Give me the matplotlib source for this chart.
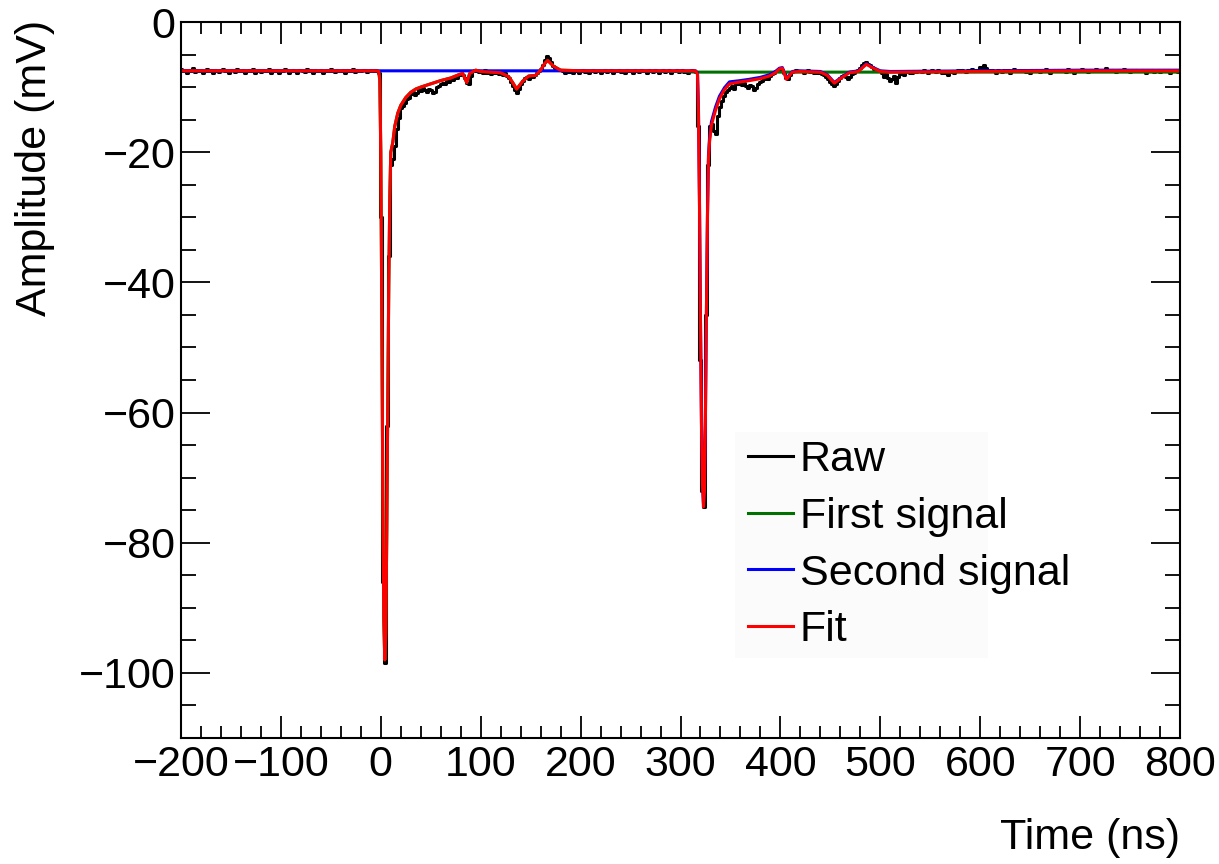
import numpy as np
import matplotlib
matplotlib.use("Agg")
import matplotlib.pyplot as plt
from matplotlib.ticker import MultipleLocator
from matplotlib.patches import Rectangle

plt.rcParams['font.family'] = ['Liberation Sans', 'DejaVu Sans']

# raw waveform, sampled every 2 ns from -200 ns to 800 ns
raw_start, raw_step = -200, 2
raw_mv = [
    -7.2, -7.6, -7.3, -7.9, -7.4, -7.5, -7.1, -7.7, -7.4, -7.6,
    -7.3, -7.8, -7.5, -7.2, -7.6, -7.4, -7.9, -7.3, -7.5, -7.7,
    -7.4, -7.2, -7.6, -7.5, -7.8, -7.3, -7.4, -7.7, -7.2, -7.5,
    -7.6, -7.4, -7.9, -7.5, -7.3, -7.6, -7.2, -7.8, -7.5, -7.4,
    -7.7, -7.3, -7.5, -7.6, -7.2, -7.9, -7.4, -7.5, -7.3, -7.8,
    -7.5, -7.6, -7.2, -7.4, -7.8, -7.5, -7.3, -7.6, -7.9, -7.4,
    -7.3, -7.5, -7.7, -7.2, -7.6, -7.4, -7.8, -7.3, -7.5, -7.6,
    -7.4, -7.9, -7.5, -7.3, -7.6, -7.2, -7.5, -7.7, -7.4, -7.6,
    -7.5, -7.3, -7.8, -7.4, -7.6, -7.5, -7.2, -7.7, -7.4, -7.5,
    -7.6, -7.4, -7.3, -7.7, -7.5, -7.4, -7.6, -7.3, -7.5, -7.8,
    -30.0, -86.0, -98.5, -62.0, -36.0, -22.0, -21.0, -19.0, -16.5, -14.8,
    -13.2, -12.9, -12.4, -11.9, -11.7, -11.0, -10.7, -11.2, -10.9, -10.4,
    -10.6, -10.1, -10.4, -10.8, -10.3, -10.5, -10.9, -10.7, -10.0, -9.8,
    -9.6, -9.3, -9.5, -9.0, -9.2, -8.8, -8.9, -8.5, -8.6, -8.2,
    -8.0, -8.2, -8.6, -9.4, -9.6, -8.3, -7.6, -7.3, -7.5, -7.7,
    -7.5, -7.8, -7.4, -7.9, -7.6, -8.0, -7.7, -7.8, -7.5, -8.0,
    -7.9, -8.1, -7.8, -8.3, -8.6, -9.2, -9.8, -10.4, -10.9, -10.3,
    -9.6, -9.0, -8.6, -8.4, -8.7, -8.3, -8.5, -8.1, -7.8, -7.5,
    -7.2, -6.6, -5.9, -5.3, -5.6, -6.2, -6.7, -7.0, -7.2, -7.4,
    -7.3, -7.6, -7.8, -7.5, -7.7, -7.4, -7.9, -7.6, -7.5, -7.8,
    -7.6, -7.4, -7.7, -7.5, -7.9, -7.6, -7.3, -7.7, -7.5, -7.6,
    -7.8, -7.5, -7.4, -7.7, -7.6, -7.3, -7.8, -7.5, -7.6, -7.4,
    -7.7, -7.5, -7.8, -7.3, -7.6, -7.5, -7.9, -7.4, -7.6, -7.7,
    -7.4, -7.6, -7.5, -7.8, -7.3, -7.6, -7.7, -7.4, -7.5, -7.8,
    -7.5, -7.3, -7.7, -7.6, -7.4, -7.8, -7.5, -7.6, -7.3, -7.7,
    -7.5, -7.4, -7.7, -7.5, -7.8, -7.6, -7.4, -7.5, -7.7, -16.0,
    -52.0, -72.0, -74.5, -45.0, -22.0, -16.0, -15.6, -16.8, -17.2, -14.5,
    -13.0, -12.1, -11.4, -10.8, -10.5, -10.1, -9.9, -10.3, -9.6, -9.5,
    -9.4, -9.7, -9.3, -9.8, -10.2, -9.7, -9.9, -10.4, -10.1, -9.5,
    -9.2, -9.0, -8.8, -8.6, -8.7, -8.3, -8.0, -7.9, -7.6, -7.4,
    -7.0, -7.3, -7.9, -8.6, -8.8, -8.2, -7.7, -7.5, -7.4, -7.6,
    -7.6, -7.5, -7.8, -7.6, -7.4, -7.7, -7.5, -7.8, -7.6, -7.9,
    -7.8, -8.0, -8.2, -8.4, -8.8, -9.2, -9.6, -9.8, -9.5, -9.0,
    -8.6, -8.3, -8.2, -8.5, -8.7, -8.4, -8.0, -7.8, -7.6, -7.4,
    -7.0, -6.6, -6.3, -6.1, -6.4, -6.6, -6.9, -7.2, -7.4, -7.6,
    -7.6, -7.9, -8.4, -8.0, -8.6, -9.0, -8.8, -8.3, -9.4, -8.4,
    -8.0, -7.8, -8.1, -7.7, -7.6, -7.9, -7.8, -7.5, -7.7, -7.6,
    -7.5, -7.7, -7.4, -7.6, -7.8, -7.5, -7.3, -7.6, -7.7, -7.4,
    -7.6, -7.8, -7.5, -7.9, -8.1, -7.7, -7.6, -7.8, -7.5, -7.4,
    -7.6, -7.3, -7.5, -7.7, -7.4, -7.6, -7.2, -7.5, -7.3, -7.6,
    -6.9, -7.2, -6.6, -7.0, -7.4, -7.6, -7.3, -7.5, -7.8, -7.4,
    -7.5, -7.7, -7.3, -7.6, -7.4, -7.8, -7.5, -7.2, -7.6, -7.5,
    -7.4, -7.6, -7.3, -7.7, -7.5, -7.8, -7.4, -7.6, -7.3, -7.5,
    -7.7, -7.4, -7.6, -7.2, -7.5, -7.8, -7.5, -7.3, -7.6, -7.4,
    -7.6, -7.3, -7.5, -7.7, -7.2, -7.5, -7.4, -7.8, -7.3, -7.6,
    -7.5, -7.2, -7.6, -7.4, -7.7, -7.3, -7.5, -7.6, -7.2, -7.4,
    -7.6, -7.3, -7.5, -7.1, -7.4, -7.6, -7.3, -7.5, -7.7, -7.4,
    -7.3, -7.6, -7.2, -7.5, -7.4, -7.7, -7.3, -7.6, -7.4, -7.5,
    -7.6, -7.3, -7.5, -7.8, -7.4, -7.6, -7.3, -7.7, -7.5, -7.4,
    -7.7, -7.5, -7.3, -7.6, -7.4, -7.8, -7.5, -7.6, -7.3, -7.7,
    -7.6,
]

# fitted components, on a shared time grid (ns)
fit_t = [-200, -100, -4, -2, -1, 0, 1, 2, 3, 4,
         5, 6, 7, 8, 9, 10, 12, 14, 17, 20,
         25, 30, 35, 40, 50, 60, 70, 78, 82, 86,
         89, 95, 100, 110, 120, 128, 132, 136, 142, 148,
         155, 160, 164, 167, 173, 180, 200, 250, 300, 315,
         317, 318, 319, 320, 321, 322, 323, 324, 325, 326,
         327, 328, 329, 331, 335, 339, 344, 349, 360, 369,
         380, 389, 395, 399, 402, 406, 412, 419, 440, 447,
         454, 461, 469, 478, 486, 493, 500, 510, 600, 700,
         800]

first_signal = [-7.5, -7.5, -7.5, -7.6, -9.0, -20.0, -45.0, -72.0, -92.0, -98.0,
                -94.0, -78.0, -58.0, -40.0, -27.0, -20.0, -18.5, -16.0, -14.0, -12.8,
                -11.6, -10.8, -10.3, -10.0, -9.5, -9.0, -8.6, -8.1, -7.9, -9.3,
                -7.9, -7.4, -7.6, -7.7, -7.8, -8.4, -9.3, -10.3, -9.1, -8.3,
                -8.2, -7.4, -6.4, -5.9, -6.8, -7.4, -7.5, -7.5, -7.6, -7.7,
                -7.7, -7.7, -7.7, -7.7, -7.7, -7.7, -7.7, -7.7, -7.7, -7.7,
                -7.7, -7.7, -7.7, -7.7, -7.7, -7.7, -7.7, -7.7, -7.7, -7.7,
                -7.7, -7.7, -7.7, -7.7, -7.7, -7.7, -7.7, -7.7, -7.7, -7.7,
                -7.7, -7.7, -7.7, -7.7, -7.7, -7.7, -7.7, -7.7, -7.7, -7.7,
                -7.7]

second_signal = [-7.5, -7.5, -7.5, -7.5, -7.5, -7.5, -7.5, -7.5, -7.5, -7.5,
                 -7.5, -7.5, -7.5, -7.5, -7.5, -7.5, -7.5, -7.5, -7.5, -7.5,
                 -7.5, -7.5, -7.5, -7.5, -7.5, -7.5, -7.5, -7.5, -7.5, -7.5,
                 -7.5, -7.5, -7.5, -7.5, -7.5, -7.5, -7.5, -7.5, -7.5, -7.5,
                 -7.5, -7.5, -7.5, -7.5, -7.5, -7.5, -7.5, -7.5, -7.5, -7.5,
                 -7.8, -13.5, -27.5, -45.5, -61.5, -70.5, -74.0, -71.5, -59.5, -43.5,
                 -29.5, -20.5, -18.0, -15.3, -13.1, -11.4, -10.1, -9.2, -9.0, -8.8,
                 -8.5, -8.1, -7.6, -7.1, -7.0, -8.7, -7.6, -7.5, -7.6, -8.1,
                 -9.3, -8.5, -7.7, -7.5, -6.4, -7.0, -7.5, -7.6, -7.5, -7.4,
                 -7.4]

fit = [-7.5, -7.5, -7.5, -7.6, -9.0, -20.0, -45.0, -72.0, -92.0, -98.0,
       -94.0, -78.0, -58.0, -40.0, -27.0, -20.0, -18.5, -16.0, -14.0, -12.8,
       -11.6, -10.8, -10.3, -10.0, -9.5, -9.0, -8.6, -8.1, -7.9, -9.3,
       -7.9, -7.4, -7.6, -7.7, -7.8, -8.4, -9.3, -10.3, -9.1, -8.3,
       -8.2, -7.4, -6.4, -5.9, -6.8, -7.4, -7.5, -7.5, -7.5, -7.5,
       -8.0, -14.0, -28.0, -46.0, -62.0, -71.0, -74.5, -72.0, -60.0, -44.0,
       -30.0, -21.0, -18.5, -15.8, -13.6, -11.8, -10.4, -9.5, -9.2, -9.0,
       -8.7, -8.3, -7.8, -7.2, -7.1, -8.8, -7.7, -7.6, -7.7, -8.2,
       -9.4, -8.6, -7.8, -7.6, -6.5, -7.1, -7.6, -7.7, -7.6, -7.5,
       -7.5]

raw_t = raw_start + raw_step * np.arange(len(raw_mv))

fig = plt.figure(figsize=(12.19, 8.64), dpi=100)
ax = fig.add_axes([181 / 1219, 126 / 864, 999 / 1219, 716 / 864])

ax.plot(raw_t, raw_mv, color='black', lw=2.2, drawstyle='steps-mid', label='Raw')
ax.plot(fit_t, first_signal, color='#007000', lw=2.2, label='First signal')
ax.plot(fit_t, second_signal, color='#0000ff', lw=2.2, label='Second signal')
ax.plot(fit_t, fit, color='#ff0000', lw=2.2, label='Fit')

ax.set_xlim(-200, 800)
ax.set_ylim(-110, 0)
ax.xaxis.set_major_locator(MultipleLocator(100))
ax.xaxis.set_minor_locator(MultipleLocator(20))
ax.yaxis.set_major_locator(MultipleLocator(20))
ax.yaxis.set_minor_locator(MultipleLocator(5))
ax.tick_params(which='both', direction='in', top=True, right=True,
               width=1.3, labelsize=31)
ax.tick_params(axis='x', which='major', length=16, pad=5)
ax.tick_params(axis='x', which='minor', length=8.5)
ax.tick_params(axis='y', which='major', length=21, pad=4)
ax.tick_params(axis='y', which='minor', length=11)
for s in ax.spines.values():
    s.set_linewidth(1.5)

fig.text(35 / 1219, 1 - 20 / 864, 'Amplitude (mV)', rotation=90,
         ha='center', va='top', fontsize=31)
fig.text(1180 / 1219, 1 - 838 / 864, 'Time (ns)', ha='right',
         va='center', fontsize=31)

# faint legend box (narrower than its text, as in the original)
ax.add_patch(Rectangle((735 / 1219, 1 - 658 / 864), 253 / 1219, 226 / 864,
                       transform=fig.transFigure, facecolor='#fbfbfb',
                       edgecolor='none', zorder=3, clip_on=False))

leg = ax.legend(loc='upper left', bbox_to_anchor=(735 / 1219, 1 - 427 / 864),
                bbox_transform=fig.transFigure, fontsize=31, frameon=False,
                handlelength=1.05, handletextpad=0.15,
                labelspacing=0.39, borderpad=0.3, borderaxespad=0)
leg.set_zorder(5)

fig.savefig('out.png', dpi=100)
